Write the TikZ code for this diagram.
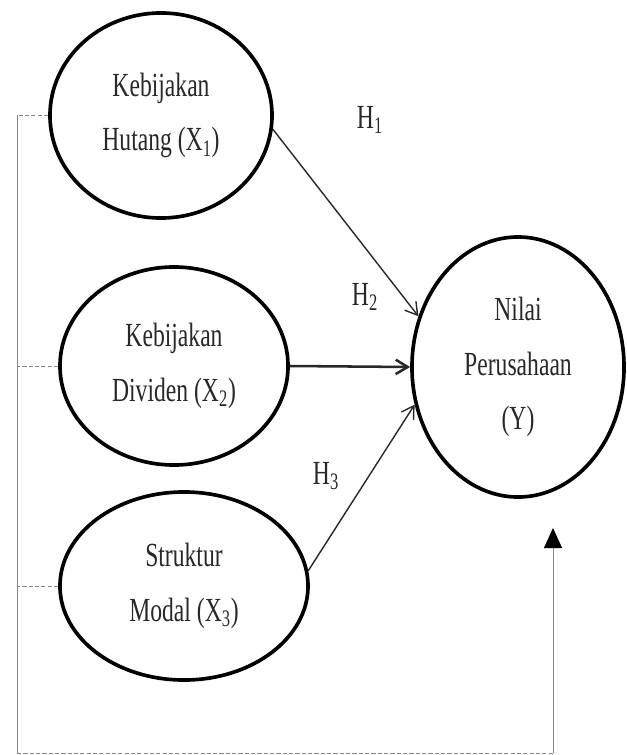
\documentclass[tikz,border=0pt]{standalone}
\usepackage{fontspec}
\setmainfont{Liberation Serif}[FakeStretch=0.7]
\definecolor{loopgray}{RGB}{135, 135, 135}
\definecolor{inkdark}{RGB}{40, 40, 40}
\usetikzlibrary{arrows.meta, shapes.geometric}
\tikzset{
	latent/.style={ellipse, draw=black, line width=2.6pt, inner sep=0pt, align=center, text=inkdark, font=\fontsize{24}{39}\selectfont},
	hyplabel/.style={inner sep=1pt, text=inkdark, font=\fontsize{24}{29}\selectfont},
	effect/.style={-{Straight Barb[length=3mm, width=3.6mm]}, line width=1pt, draw=inkdark},
	maineffect/.style={effect, line width=1.8pt},
	stub/.style={draw=loopgray, line width=0.7pt, dash pattern=on 3pt off 1.5pt},
	loopline/.style={draw=loopgray, line width=0.7pt},
	feedback/.style={-{Triangle[length=5mm, width=4.5mm, color=black]}, draw=loopgray, line width=0.7pt},
}

\begin{document}
\begin{tikzpicture}[x=0.025cm, y=-0.025cm]
	\useasboundingbox (0,0) rectangle (626,755);
	\node[latent, minimum width=5.55cm, minimum height=5.125cm] (x1) at (161,115.5) {Kebijakan\\Hutang (X\textsubscript{1})};
	\node[latent, minimum width=5.7cm, minimum height=4.95cm] (x2) at (174,366) {Kebijakan\\Dividen (X\textsubscript{2})};
	\node[latent, minimum width=6.2cm, minimum height=4.7cm] (x3) at (184,586) {Struktur\\Modal (X\textsubscript{3})};
	\node[latent, minimum width=5.3cm, minimum height=6.5cm] (y) at (518,367) {Nilai\\Perusahaan\\(Y)};
	\node[hyplabel] (h1) at (370,120) {H\textsubscript{1}};
	\node[hyplabel] (h2) at (365,297) {H\textsubscript{2}};
	\node[hyplabel] (h3) at (326,476) {H\textsubscript{3}};
	\coordinate (corner) at (17,753);
	\coordinate (feed) at (553,753);
	\coordinate (fbtip) at (553,528);
	\draw[effect] (x1.-7) -- (y.153);
	\draw[maineffect] (x2.east) -- (y.west);
	\draw[effect] (x3.7) -- (y.200);
	\draw[stub] (x1.west) -- (x1.west -| corner);
	\draw[stub] (x2.west) -- (x2.west -| corner);
	\draw[stub] (x3.west) -- (x3.west -| corner);
	\draw[loopline] (x1.west -| corner) -- (corner);
	\draw[stub] (corner) -- (feed);
	\draw[feedback] (feed) -- (fbtip);
\end{tikzpicture}
\end{document}
